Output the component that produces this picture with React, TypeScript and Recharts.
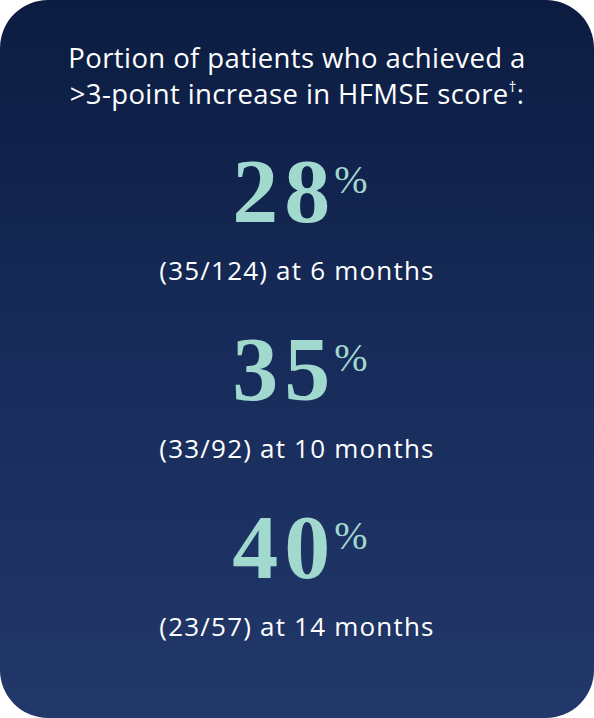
import { ScatterChart, Scatter, XAxis, YAxis } from 'recharts'

// Rows of the card, top to bottom
const rows = [1, 2, 3]
const percents = [28, 35, 40]
const achieved = [35, 33, 23]
const totals = [124, 92, 57]
const months = [6, 10, 14]

const titleLine1 = 'Portion of patients who achieved a'
const titleLine2 = '>3-point increase in HFMSE score'

const chartData = rows.map((row, i) => ({
  x: 0.5,
  row,
  percent: percents[i],
  label: `(${achieved[i]}/${totals[i]}) at ${months[i]} months`,
}))

const sans = '"Open Sans", Lato, sans-serif'
const serif = '"Liberation Serif", "DejaVu Serif", serif'

function StatShape(props: any) {
  const { cx, cy, payload } = props
  return (
    <g>
      <text x={cx + 3} y={cy + 30} textAnchor="middle" fill="#a1d9cf" fontFamily={serif}>
        <tspan fontSize={92} fontWeight={700} letterSpacing={6}>
          {payload.percent}
        </tspan>
        <tspan fontSize={40} dx={-2} dy={-29}>
          %
        </tspan>
      </text>
      <text x={cx} y={cy + 88} textAnchor="middle" fill="#ffffff" fontFamily={sans} fontSize={26} letterSpacing={1.2}>
        {payload.label}
      </text>
    </g>
  )
}

export default function App() {
  return (
    <div style={{ width: 594, height: 718, position: 'relative' }}>
      <style>{'body{margin:0}'}</style>
      <div
        style={{
          position: 'absolute',
          inset: 0,
          borderRadius: 48,
          background: 'linear-gradient(180deg, #0c1c41 0%, #172c5a 50%, #22386a 100%)',
        }}
      />
      <div style={{ position: 'absolute', left: 0, top: 0 }}>
        <ScatterChart width={594} height={718} margin={{ top: 14, right: 0, bottom: 10, left: 0 }}>
          <XAxis type="number" dataKey="x" domain={[0, 1]} hide />
          <YAxis type="number" dataKey="row" domain={[0, 3.9]} reversed hide />
          <Scatter data={chartData} shape={<StatShape />} isAnimationActive={false} />
          <text textAnchor="middle" fill="#ffffff" fontFamily={sans} fontSize={27.5} letterSpacing={0.4}>
            <tspan x={297} y={68}>
              {titleLine1}
            </tspan>
            <tspan x={297} y={104}>
              {titleLine2}
              <tspan fontSize={15} dy={-12}>
                {'\u2020'}
              </tspan>
              <tspan dy={12}>:</tspan>
            </tspan>
          </text>
        </ScatterChart>
      </div>
    </div>
  )
}
